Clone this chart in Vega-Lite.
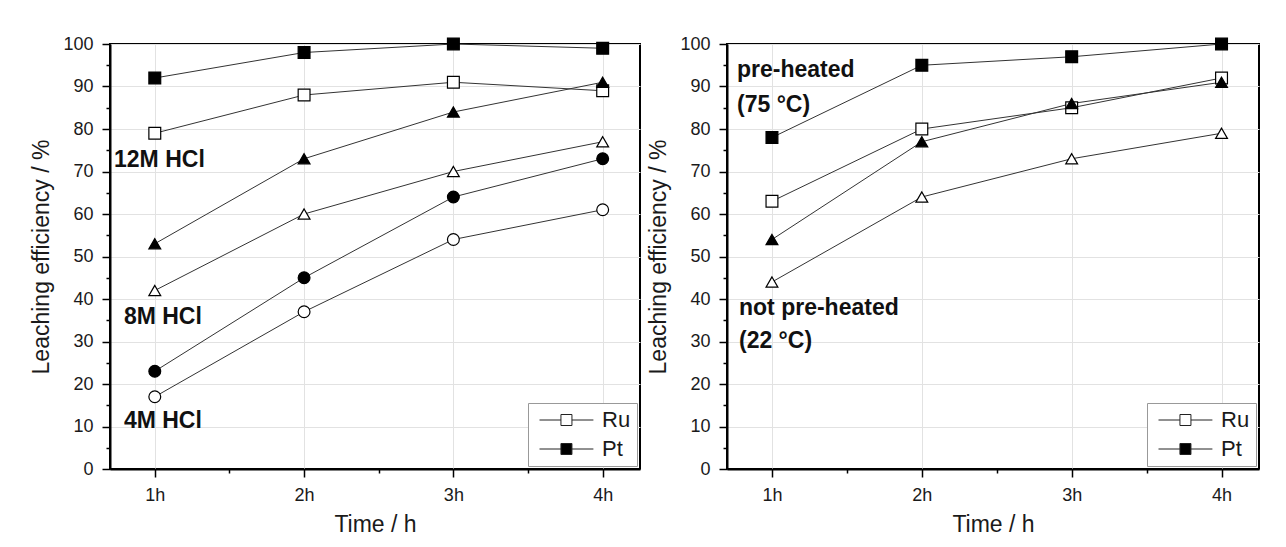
{
  "$schema": "https://vega.github.io/schema/vega-lite/v6.json",
  "padding": {"left": 29, "top": 34, "right": 5, "bottom": 5},
  "background": "white",
  "spacing": 5,
  "datasets": {
    "left": [
      {"cond": "12M", "metal": "Ru", "t": 1, "v": 79}, {"cond": "12M", "metal": "Ru", "t": 2, "v": 88}, {"cond": "12M", "metal": "Ru", "t": 3, "v": 91}, {"cond": "12M", "metal": "Ru", "t": 4, "v": 89},
      {"cond": "12M", "metal": "Pt", "t": 1, "v": 92}, {"cond": "12M", "metal": "Pt", "t": 2, "v": 98}, {"cond": "12M", "metal": "Pt", "t": 3, "v": 100}, {"cond": "12M", "metal": "Pt", "t": 4, "v": 99},
      {"cond": "8M", "metal": "Ru", "t": 1, "v": 42}, {"cond": "8M", "metal": "Ru", "t": 2, "v": 60}, {"cond": "8M", "metal": "Ru", "t": 3, "v": 70}, {"cond": "8M", "metal": "Ru", "t": 4, "v": 77},
      {"cond": "8M", "metal": "Pt", "t": 1, "v": 53}, {"cond": "8M", "metal": "Pt", "t": 2, "v": 73}, {"cond": "8M", "metal": "Pt", "t": 3, "v": 84}, {"cond": "8M", "metal": "Pt", "t": 4, "v": 91},
      {"cond": "4M", "metal": "Ru", "t": 1, "v": 17}, {"cond": "4M", "metal": "Ru", "t": 2, "v": 37}, {"cond": "4M", "metal": "Ru", "t": 3, "v": 54}, {"cond": "4M", "metal": "Ru", "t": 4, "v": 61},
      {"cond": "4M", "metal": "Pt", "t": 1, "v": 23}, {"cond": "4M", "metal": "Pt", "t": 2, "v": 45}, {"cond": "4M", "metal": "Pt", "t": 3, "v": 64}, {"cond": "4M", "metal": "Pt", "t": 4, "v": 73}
    ],
    "right": [
      {"cond": "pre", "metal": "Ru", "t": 1, "v": 63}, {"cond": "pre", "metal": "Ru", "t": 2, "v": 80}, {"cond": "pre", "metal": "Ru", "t": 3, "v": 85}, {"cond": "pre", "metal": "Ru", "t": 4, "v": 92},
      {"cond": "pre", "metal": "Pt", "t": 1, "v": 78}, {"cond": "pre", "metal": "Pt", "t": 2, "v": 95}, {"cond": "pre", "metal": "Pt", "t": 3, "v": 97}, {"cond": "pre", "metal": "Pt", "t": 4, "v": 100},
      {"cond": "not", "metal": "Ru", "t": 1, "v": 44}, {"cond": "not", "metal": "Ru", "t": 2, "v": 64}, {"cond": "not", "metal": "Ru", "t": 3, "v": 73}, {"cond": "not", "metal": "Ru", "t": 4, "v": 79},
      {"cond": "not", "metal": "Pt", "t": 1, "v": 54}, {"cond": "not", "metal": "Pt", "t": 2, "v": 77}, {"cond": "not", "metal": "Pt", "t": 3, "v": 86}, {"cond": "not", "metal": "Pt", "t": 4, "v": 91}
    ],
    "leftLabels": [
      {"x": 0.727, "y": 71.1, "label": "12M HCl"},
      {"x": 0.793, "y": 34.1, "label": "8M HCl"},
      {"x": 0.793, "y": 9.6, "label": "4M HCl"}
    ],
    "rightLabels": [
      {"x": 0.767, "y": 92.2, "label": "pre-heated"},
      {"x": 0.767, "y": 84.0, "label": "(75 °C)"},
      {"x": 0.78, "y": 36.2, "label": "not pre-heated"},
      {"x": 0.78, "y": 28.5, "label": "(22 °C)"}
    ]
  },
  "hconcat": [
    {
      "width": 530,
      "height": 425,
      "resolve": {"axis": {"x": "independent", "y": "independent"}},
      "layer": [
        {
          "data": {"name": "left"},
          "mark": {"type": "line", "color": "#333333", "strokeWidth": 1},
          "encoding": {
            "x": {"field": "t", "type": "quantitative", "scale": {"domain": [0.7, 4.25], "nice": false, "zero": false},
                  "axis": {"values": [1, 2, 3, 4], "labelExpr": "datum.value + 'h'", "title": "Time / h", "grid": true, "orient": "bottom"}},
            "y": {"field": "v", "type": "quantitative", "scale": {"domain": [0, 100], "nice": false},
                  "axis": {"values": [0, 10, 20, 30, 40, 50, 60, 70, 80, 90, 100], "title": "Leaching efficiency / %", "grid": true, "orient": "left"}},
            "detail": [{"field": "cond"}, {"field": "metal"}]
          }
        },
        {
          "data": {"name": "left"},
          "mark": {"type": "point", "filled": true, "stroke": "black", "strokeWidth": 1.2, "opacity": 1, "size": 140},
          "encoding": {
            "x": {"field": "t", "type": "quantitative", "axis": null},
            "y": {"field": "v", "type": "quantitative", "axis": null},
            "fill": {"field": "metal", "type": "nominal", "scale": {"domain": ["Ru", "Pt"], "range": ["white", "black"]},
                     "legend": {"title": null, "orient": "bottom-right", "offset": 3}},
            "shape": {"field": "cond", "type": "nominal", "scale": {"domain": ["12M", "8M", "4M"], "range": ["square", "triangle-up", "circle"]}, "legend": null}
          }
        },
        {
          "data": {"name": "leftLabels"},
          "mark": {"type": "text", "align": "left", "baseline": "alphabetic", "fontSize": 23, "fontWeight": "bold", "color": "#111111"},
          "encoding": {
            "x": {"field": "x", "type": "quantitative", "axis": {"values": [1.5, 2.5, 3.5], "labels": false, "domain": false, "grid": false, "ticks": true, "tickSize": 4, "title": null, "orient": "bottom"}},
            "y": {"field": "y", "type": "quantitative", "axis": {"values": [5, 15, 25, 35, 45, 55, 65, 75, 85, 95], "labels": false, "domain": false, "grid": false, "ticks": true, "tickSize": 4, "title": null, "orient": "left"}},
            "text": {"field": "label"}
          }
        }
      ]
    },
    {
      "width": 532,
      "height": 425,
      "resolve": {"axis": {"x": "independent", "y": "independent"}},
      "layer": [
        {
          "data": {"name": "right"},
          "mark": {"type": "line", "color": "#333333", "strokeWidth": 1},
          "encoding": {
            "x": {"field": "t", "type": "quantitative", "scale": {"domain": [0.7, 4.25], "nice": false, "zero": false},
                  "axis": {"values": [1, 2, 3, 4], "labelExpr": "datum.value + 'h'", "title": "Time / h", "grid": true, "orient": "bottom"}},
            "y": {"field": "v", "type": "quantitative", "scale": {"domain": [0, 100], "nice": false},
                  "axis": {"values": [0, 10, 20, 30, 40, 50, 60, 70, 80, 90, 100], "title": "Leaching efficiency / %", "grid": true, "orient": "left"}},
            "detail": [{"field": "cond"}, {"field": "metal"}]
          }
        },
        {
          "data": {"name": "right"},
          "mark": {"type": "point", "filled": true, "stroke": "black", "strokeWidth": 1.2, "opacity": 1, "size": 140},
          "encoding": {
            "x": {"field": "t", "type": "quantitative", "axis": null},
            "y": {"field": "v", "type": "quantitative", "axis": null},
            "fill": {"field": "metal", "type": "nominal", "scale": {"domain": ["Ru", "Pt"], "range": ["white", "black"]},
                     "legend": {"title": null, "orient": "bottom-right", "offset": 3}},
            "shape": {"field": "cond", "type": "nominal", "scale": {"domain": ["pre", "not"], "range": ["square", "triangle-up"]}, "legend": null}
          }
        },
        {
          "data": {"name": "rightLabels"},
          "mark": {"type": "text", "align": "left", "baseline": "alphabetic", "fontSize": 23, "fontWeight": "bold", "color": "#111111"},
          "encoding": {
            "x": {"field": "x", "type": "quantitative", "axis": {"values": [1.5, 2.5, 3.5], "labels": false, "domain": false, "grid": false, "ticks": true, "tickSize": 4, "title": null, "orient": "bottom"}},
            "y": {"field": "y", "type": "quantitative", "axis": {"values": [5, 15, 25, 35, 45, 55, 65, 75, 85, 95], "labels": false, "domain": false, "grid": false, "ticks": true, "tickSize": 4, "title": null, "orient": "left"}},
            "text": {"field": "label"}
          }
        }
      ]
    }
  ],
  "resolve": {"scale": {"fill": "independent", "shape": "independent", "x": "independent", "y": "independent"}, "legend": {"fill": "independent"}},
  "config": {
    "font": "Liberation Sans",
    "view": {"stroke": "black", "strokeWidth": 2},
    "axis": {
      "domainColor": "black", "domainWidth": 2,
      "tickColor": "black", "tickWidth": 1.5, "tickSize": 8,
      "gridColor": "#e2e2e2", "gridWidth": 1,
      "labelFont": "Liberation Sans", "labelFontSize": 18, "labelColor": "#1a1a1a", "labelPadding": 9,
      "titleFont": "Liberation Sans", "titleFontSize": 23, "titleFontWeight": "normal", "titleColor": "#1a1a1a", "titlePadding": 9
    },
    "legend": {
      "strokeColor": "#999999", "fillColor": "white", "padding": 6,
      "symbolType": "M-1,0H2.9M4.9,0H8.8M2.9,-1H4.9V1H2.9Z",
      "symbolSize": 121, "symbolStrokeColor": "#222222", "symbolStrokeWidth": 1,
      "labelFont": "Liberation Sans", "labelFontSize": 22, "labelColor": "#1a1a1a", "labelOffset": 46,
      "rowPadding": 7
    }
  }
}
